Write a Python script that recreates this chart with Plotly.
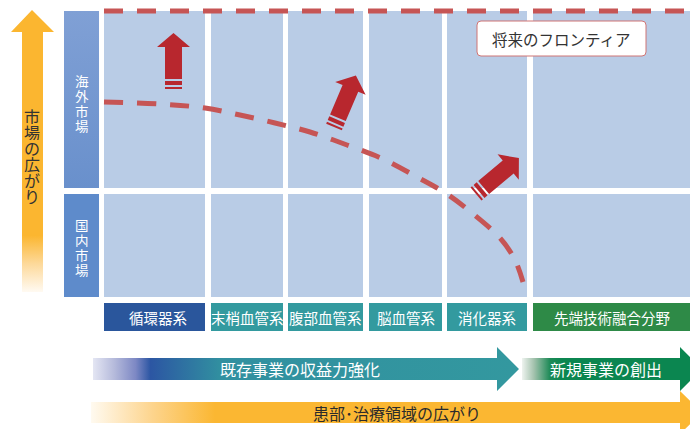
import math
import plotly.graph_objects as go

# ---- content ----------------------------------------------------------
categories = ["循環器系", "末梢血管系", "腹部血管系", "脳血管系", "消化器系", "先端技術融合分野"]
category_colors = ["#2a569c", "#339a9f", "#339a9f", "#339a9f", "#339a9f", "#2e8a47"]
markets = ["海外市場", "国内市場"]
vertical_label = "市場の広がり"
business_flows = ["既存事業の収益力強化", "新規事業の創出"]
domain_flow = "患部･治療領域の広がり"
frontier_label = "将来のフロンティア"

# current reach of the business (dashed frontier curve), read in canvas units
frontier_x = [104, 160, 205, 240, 275, 310, 347, 383, 417, 447, 472, 500, 515, 523]
frontier_y = [102, 104, 108, 115, 123, 132, 145, 159, 177, 194, 213, 238, 260, 282]

# growth arrows: tail position and direction (degrees)
growth_tail_x = [173.5, 334, 476]
growth_tail_y = [89, 127, 194]
growth_angle = [90, 67, 40]

# ---- layout geometry (canvas pixels, y grows downward) ----------------
W, H = 690, 429
col_edges = [(104, 205), (211, 283), (288, 363), (369, 442), (447, 527), (533, 690)]
row_edges = [(11, 188), (194, 297)]
label_x = (64, 99)
cat_y = (303, 331)

FONT = "Noto Sans CJK JP"
CELL = "#b9cce6"
RED = "#b8272e"
DASH_RED = "#c65555"

fig = go.Figure()
shapes = []
annotations = []

# grid cells
for (x0, x1) in col_edges:
    for (y0, y1) in row_edges:
        shapes.append(dict(type="rect", x0=x0, x1=x1, y0=y0, y1=y1, fillcolor=CELL,
                           line=dict(width=0), layer="below"))


def poly(xs, ys, color=None, grad=None):
    fig.add_trace(go.Scatter(
        x=xs + [xs[0]], y=ys + [ys[0]], mode="lines", fill="toself",
        fillcolor=color, fillgradient=grad, line=dict(width=0),
        hoverinfo="skip", showlegend=False))


# market label blocks on the left
poly([label_x[0], label_x[1], label_x[1], label_x[0]],
     [row_edges[0][0], row_edges[0][0], row_edges[0][1], row_edges[0][1]],
     grad=dict(type="vertical", start=row_edges[0][0], stop=row_edges[0][1],
               colorscale=[[0, "#80a0d5"], [1, "#6990cc"]]))
poly([label_x[0], label_x[1], label_x[1], label_x[0]],
     [row_edges[1][0], row_edges[1][0], row_edges[1][1], row_edges[1][1]], color="#5e8bcb")

# vertical "market expansion" arrow
poly([32, 54, 43, 43, 22, 22, 11], [10, 32, 32, 292, 292, 32, 32],
     grad=dict(type="vertical", start=10, stop=292,
               colorscale=[[0, "#fbb630"], [0.8, "#fbb630"], [0.9, "#fdd99a"], [1, "#fffaf2"]]))

# category boxes
for (x0, x1), c in zip(col_edges, category_colors):
    shapes.append(dict(type="rect", x0=x0, x1=x1, y0=cat_y[0], y1=cat_y[1], fillcolor=c,
                       line=dict(width=0), layer="below"))

# bottom flow arrows
poly([93, 497, 497, 519, 497, 497, 93], [358, 358, 347, 369, 391, 380, 380],
     grad=dict(type="horizontal", start=93, stop=519,
               colorscale=[[0, "#e4e6f3"], [0.05, "#b5badb"], [0.1, "#7d88c4"],
                           [0.135, "#2c56a3"], [0.3, "#3190a0"], [1, "#33989f"]]))
poly([522, 680, 680, 702, 680, 680, 522], [358, 358, 347, 369, 391, 380, 380],
     grad=dict(type="horizontal", start=522, stop=562,
               colorscale=[[0, "#eef3ef"], [0.3, "#a3c2ad"], [0.7, "#1d8a57"], [1, "#0b8650"]]))
poly([91, 680, 680, 702, 680, 680, 91], [402, 402, 391, 412.5, 434, 423, 423],
     grad=dict(type="horizontal", start=91, stop=215,
               colorscale=[[0, "#fffaf0"], [0.5, "#fdd48c"], [1, "#fbb732"]]))

# dashed frontier lines
fig.add_trace(go.Scatter(x=[col_edges[0][0], W], y=[11, 11], mode="lines",
                         line=dict(color=DASH_RED, width=5, dash="19px,14px"),
                         hoverinfo="skip", showlegend=False))
fig.add_trace(go.Scatter(x=frontier_x, y=frontier_y, mode="lines",
                         line=dict(color=DASH_RED, width=5, dash="19px,14px", shape="spline",
                                   smoothing=1.0),
                         hoverinfo="skip", showlegend=False))

# growth arrows: body plus two tail stripes, in local (u along, v across) units
arrow_parts = [
    [(10, -8.5), (42, -8.5), (42, -16.5), (56, 0), (42, 16.5), (42, 8.5), (10, 8.5)],
    [(4, -8.5), (8, -8.5), (8, 8.5), (4, 8.5)],
    [(0, -8.5), (2, -8.5), (2, 8.5), (0, 8.5)],
]
for tx, ty, ang in zip(growth_tail_x, growth_tail_y, growth_angle):
    a = math.radians(ang)
    ux, uy = math.cos(a), -math.sin(a)
    vx, vy = math.sin(a), math.cos(a)
    for part in arrow_parts:
        xs = [tx + u * ux + v * vx for u, v in part]
        ys = [ty + u * uy + v * vy for u, v in part]
        poly(xs, ys, color=RED)

# future frontier call-out box
bx0, bx1, by0, by1, r = 477, 646, 21, 56, 4
shapes.append(dict(
    type="path", layer="above", fillcolor="white", line=dict(color="#cf7474", width=1),
    path=(f"M {bx0 + r},{by0} L {bx1 - r},{by0} Q {bx1},{by0} {bx1},{by0 + r} "
          f"L {bx1},{by1 - r} Q {bx1},{by1} {bx1 - r},{by1} L {bx0 + r},{by1} "
          f"Q {bx0},{by1} {bx0},{by1 - r} L {bx0},{by0 + r} Q {bx0},{by0} {bx0 + r},{by0} Z")))


def text(x, y, s, size, color, **kw):
    annotations.append(dict(x=x, y=y, text=s, showarrow=False, xanchor="center",
                            yanchor="middle", font=dict(family=FONT, size=size, color=color),
                            **kw))


text((bx0 + bx1) / 2, (by0 + by1) / 2, frontier_label, 15.5, "#333333")

# vertical texts, one glyph per line (box height = glyph pitch)
for i, ch in enumerate(vertical_label):
    text(32, 116 + 16 * i, ch, 16, "#333333", height=16, borderpad=0)
for label, y_start in zip(markets, [80.5, 224.5]):
    for i, ch in enumerate(label):
        text(81.5, y_start + 15 * i, ch, 13.5, "white", height=15, borderpad=0)

# category names
for (x0, x1), name in zip(col_edges, categories):
    cx = (x0 + x1) / 2 + (3 if name == categories[0] else 0)
    text(cx, (cat_y[0] + cat_y[1]) / 2, name, 14.5, "white")

# flow labels
text(300, 369, business_flows[0], 16, "white")
text(606, 369, business_flows[1], 16, "white")
text(397, 412.5, domain_flow, 16, "#2b2b2b")

fig.update_layout(
    width=W, height=H, margin=dict(l=0, r=0, t=0, b=0),
    paper_bgcolor="white", plot_bgcolor="white",
    xaxis=dict(range=[0, W], visible=False, fixedrange=True),
    yaxis=dict(range=[H, 0], visible=False, fixedrange=True),
    shapes=shapes, annotations=annotations, showlegend=False,
)

fig.write_html("out.html")
